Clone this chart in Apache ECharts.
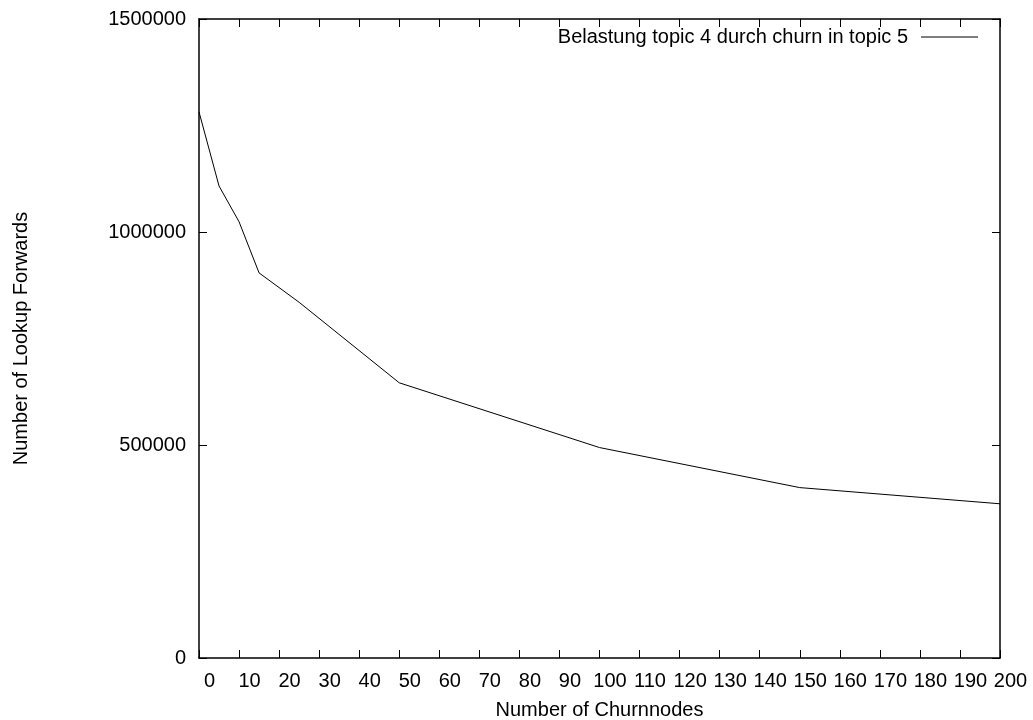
<!DOCTYPE html>
<html>
<head>
<meta charset="utf-8">
<script src="https://cdn.jsdelivr.net/npm/echarts@6/dist/echarts.min.js"></script>
<style>
  html, body { margin: 0; padding: 0; background: #fff; }
  #chart { width: 1033px; height: 720px; }
</style>
</head>
<body>
<div id="chart"></div>
<script>
// Lookup forwards on topic 4 as churn in topic 5 grows
const churnNodes = [0, 5, 10, 15, 25, 50, 100, 150, 200];
const lookupForwards = [1282000, 1108000, 1024000, 904000, 835000, 646000, 494000, 400000, 362000];
const seriesName = 'Belastung topic 4 durch churn in topic 5';
const xTitle = 'Number of Churnnodes';
const yTitle = 'Number of Lookup Forwards';

const FONT = 'Liberation Sans, Arial, Helvetica, sans-serif';
const FS = 20;

const chart = echarts.init(document.getElementById('chart'), null, { renderer: 'canvas' });

const frameLine = { show: true, onZero: false, lineStyle: { color: '#000', width: 1.5 } };
const inTick = { show: true, inside: true, length: 8, lineStyle: { color: '#000', width: 1 } };

chart.setOption({
  animation: false,
  backgroundColor: '#fff',
  textStyle: { fontFamily: FONT, color: '#000' },
  grid: { left: 199, right: 33, top: 19, bottom: 62, containLabel: false, outerBoundsMode: 'none' },
  legend: {
    show: true,
    right: 50,
    top: 22,
    align: 'right',
    itemWidth: 57,
    itemHeight: 1,
    icon: 'rect',
    textStyle: { fontFamily: FONT, fontSize: FS, color: '#000', padding: [0, 8, 0, 0] },
    data: [{ name: seriesName, itemStyle: { color: '#000' } }]
  },
  xAxis: [
    {
      type: 'value',
      min: 0, max: 200, interval: 10,
      position: 'bottom',
      axisLine: frameLine,
      axisTick: inTick,
      splitLine: { show: false },
      axisLabel: { fontFamily: FONT, fontSize: FS, color: '#000', margin: 13, padding: [0, 0, 0, 21] },
      name: xTitle,
      nameLocation: 'middle',
      nameGap: 42,
      nameTextStyle: { fontFamily: FONT, fontSize: FS, color: '#000' }
    },
    {
      type: 'value',
      min: 0, max: 200, interval: 10,
      position: 'top',
      axisLine: frameLine,
      axisTick: inTick,
      axisLabel: { show: false },
      splitLine: { show: false }
    }
  ],
  yAxis: [
    {
      type: 'value',
      min: 0, max: 1500000, interval: 500000,
      position: 'left',
      axisLine: frameLine,
      axisTick: inTick,
      splitLine: { show: false },
      axisLabel: { fontFamily: FONT, fontSize: FS, color: '#000', margin: 13, formatter: v => String(v) },
      name: yTitle,
      nameLocation: 'middle',
      nameGap: 168,
      nameRotate: 90,
      nameTextStyle: { fontFamily: FONT, fontSize: FS, color: '#000' }
    },
    {
      type: 'value',
      min: 0, max: 1500000, interval: 500000,
      position: 'right',
      axisLine: frameLine,
      axisTick: inTick,
      axisLabel: { show: false },
      splitLine: { show: false }
    }
  ],
  series: [
    {
      name: seriesName,
      type: 'line',
      xAxisIndex: 0,
      yAxisIndex: 0,
      data: churnNodes.map((c, i) => [c, lookupForwards[i]]),
      showSymbol: false,
      symbol: 'none',
      lineStyle: { color: '#000', width: 1 },
      itemStyle: { color: '#000' }
    }
  ]
});
</script>
</body>
</html>
